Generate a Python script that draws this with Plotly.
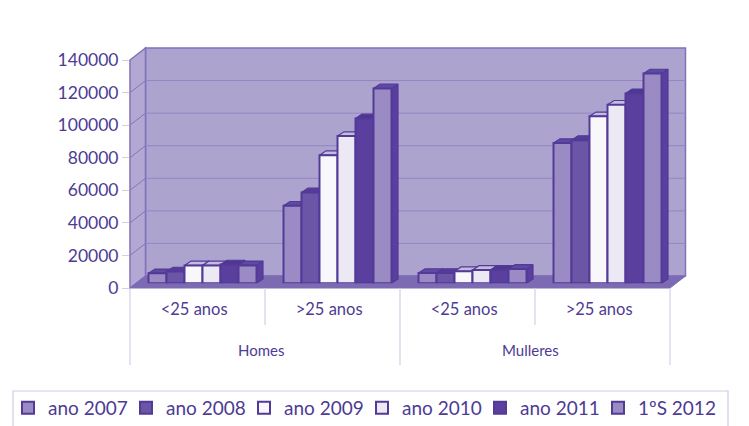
import plotly.graph_objects as go

W, H = 741, 418
OFF = 8   # the page's own margin around the figure
series_names = ["ano 2007", "ano 2008", "ano 2009", "ano 2010", "ano 2011", "1ºS 2012"]
front_colors = ["#9a8bc4", "#6a55a6", "#f8f7fc", "#ece9f5", "#5a3f9e", "#9a8bc4"]
top_colors = ["#5f49a5", "#553c9c", "#c4bbde", "#c4bbde", "#4f3596", "#5f49a5"]
age_labels = ["<25 anos", ">25 anos", "<25 anos", ">25 anos"]
group_labels = ["Homes", "Mulleres"]
ano_2007 = [6100, 47600, 6300, 86100]
ano_2008 = [7200, 55800, 6300, 87900]
ano_2009 = [11000, 78700, 7400, 102500]
ano_2010 = [11000, 90400, 8200, 109600]
ano_2011 = [11500, 101200, 8200, 116600]
s1_2012 = [11000, 119600, 8800, 128800]
all_values = [ano_2007, ano_2008, ano_2009, ano_2010, ano_2011, s1_2012]
y_ticks = [0, 20000, 40000, 60000, 80000, 100000, 120000, 140000]

INK = "#4d3b94"
EDGE = "#523a96"
WALL = "#ada3cf"
LINE = "#8172ba"
FLOOR = "#7c6bb2"
DIV = "#d3cfe8"
FONT = "Lato"


def px(x):
    return (x - OFF) / W


def py(y):
    return 1 - (y - OFF) / H


def poly(points, fill, line=None, width=1):
    path = "M " + " L ".join(f"{px(a):.5f},{py(b):.5f}" for a, b in points) + " Z"
    return dict(type="path", xref="paper", yref="paper", path=path, fillcolor=fill,
                line=dict(color=line or fill, width=width), layer="below")


def seg(x0, y0, x1, y1, color, width=1):
    return dict(type="line", xref="paper", yref="paper", x0=px(x0), y0=py(y0), x1=px(x1), y1=py(y1),
                line=dict(color=color, width=width), layer="below")


FL, FR, FT, FB = 130, 670, 60, 288     # front plane
DX, DY = 15.5, 12                      # depth of the room
shapes = [
    poly([(FL + DX, FT - DY), (FR + DX, FT - DY), (FR + DX, FB - DY), (FL + DX, FB - DY)], WALL, LINE, 1.5),
    poly([(FL, FT), (FL + DX, FT - DY), (FL + DX, FB - DY), (FL, FB)], "#b2a8d3", LINE, 1.5),
]
for t in y_ticks[1:-1]:
    yy = FB - (FB - FT) * t / 140000
    shapes.append(seg(FL, yy, FL + DX, yy - DY, LINE, 1))
    shapes.append(seg(FL + DX, yy - DY, FR + DX, yy - DY, "#9486c2", 1))
shapes.append(poly([(FL, FB), (FR, FB), (FR + DX, FB - DY), (FL + DX, FB - DY)], FLOOR, FLOOR, 1))
for xx in (130, 400, 670):
    shapes.append(seg(xx, FB, xx, 365, DIV, 1.2))
for xx in (265, 535):
    shapes.append(seg(xx, FB, xx, 325, DIV, 1.2))
# legend frame
shapes.append(dict(type="rect", xref="paper", yref="paper", x0=px(13), x1=px(728), y0=py(391), y1=py(440),
                   line=dict(color="#cfcbe6", width=1.2), fillcolor="rgba(0,0,0,0)", layer="below"))

fig = go.Figure()
positions = [0.5, 1.5, 2.5, 3.5]
label_positions = [0.475, 1.475, 2.475, 3.475]

# axis-only trace on the front plane
fig.add_trace(go.Scatter(x=positions, y=[0, 0, 0, 0], mode="markers", marker=dict(opacity=0),
                         showlegend=False, hoverinfo="skip", xaxis="x", yaxis="y"))

# depth faces of every bar (below the front faces)
w = 18 / 135
ddx = 6.5 / 135
ddy = 4.3 / 228 * 140000
for i, vals in enumerate(all_values):
    for p, v in zip(positions, vals):
        l = p + (i - 3) * w
        r = l + w
        fig.add_trace(go.Scatter(x=[r, r + ddx, r + ddx, r, r], y=[0, ddy, v + ddy, v, 0], fill="toself",
                                 fillcolor="#5a3f9e", mode="lines", line=dict(color=EDGE, width=1.2),
                                 showlegend=False, hoverinfo="skip", xaxis="x2", yaxis="y2"))
        fig.add_trace(go.Scatter(x=[l, l + ddx, r + ddx, r, l], y=[v, v + ddy, v + ddy, v, v], fill="toself",
                                 fillcolor=top_colors[i], mode="lines", line=dict(color=EDGE, width=1.2),
                                 showlegend=False, hoverinfo="skip", xaxis="x2", yaxis="y2"))

# front faces
for i, vals in enumerate(all_values):
    fig.add_trace(go.Bar(x=positions, y=vals, name=series_names[i], xaxis="x3", yaxis="y3",
                         marker=dict(color=front_colors[i], line=dict(color=EDGE, width=2))))

annotations = [
    dict(text=group_labels[0], xref="paper", yref="paper", x=px(261), y=py(350), showarrow=False,
         xanchor="center", yanchor="middle", font=dict(family=FONT, size=15, color=INK)),
    dict(text=group_labels[1], xref="paper", yref="paper", x=px(530), y=py(350), showarrow=False,
         xanchor="center", yanchor="middle", font=dict(family=FONT, size=15, color=INK)),
]

hidden = dict(visible=False, fixedrange=True)
fig.update_layout(
    width=W, height=H, margin=dict(l=0, r=0, t=0, b=0, autoexpand=False), autosize=False,
    paper_bgcolor="white", plot_bgcolor="rgba(0,0,0,0)",
    shapes=shapes, annotations=annotations,
    barmode="group", bargap=0.2, bargroupgap=0,
    font=dict(family=FONT, color=INK),
    xaxis=dict(domain=[px(FL), px(FR)], range=[0, 4], tickmode="array", tickvals=label_positions, ticktext=age_labels,
               ticks="outside", ticklen=6, tickcolor="rgba(0,0,0,0)", showgrid=False, zeroline=False,
               tickfont=dict(family=FONT, size=16.5, color=INK), showline=False),
    yaxis=dict(domain=[py(FB), py(FT)], range=[0, 140000], tickmode="array", tickvals=y_ticks,
               ticktext=[str(t) for t in y_ticks], ticks="outside", ticklen=7, tickcolor=DIV,
               showgrid=False, zeroline=False, showline=False,
               tickfont=dict(family=FONT, size=17.5, color=INK)),
    xaxis2=dict(domain=[px(FL + 5), px(FR + 5)], range=[0, 4], **hidden),
    yaxis2=dict(domain=[py(FB - 4.7), py(FT - 4.7)], range=[0, 140000], **hidden),
    xaxis3=dict(domain=[px(FL + 5), px(FR + 5)], range=[0, 4], **hidden),
    yaxis3=dict(domain=[py(FB - 4.7), py(FT - 4.7)], range=[0, 140000], **hidden),
    legend=dict(orientation="h", x=0, xanchor="left", y=py(408), yanchor="middle",
                entrywidthmode="pixels", entrywidth=73, itemwidth=30, traceorder="normal",
                bgcolor="rgba(0,0,0,0)", font=dict(family=FONT, size=19, color=INK)),
)

fig.write_html("out.html")
